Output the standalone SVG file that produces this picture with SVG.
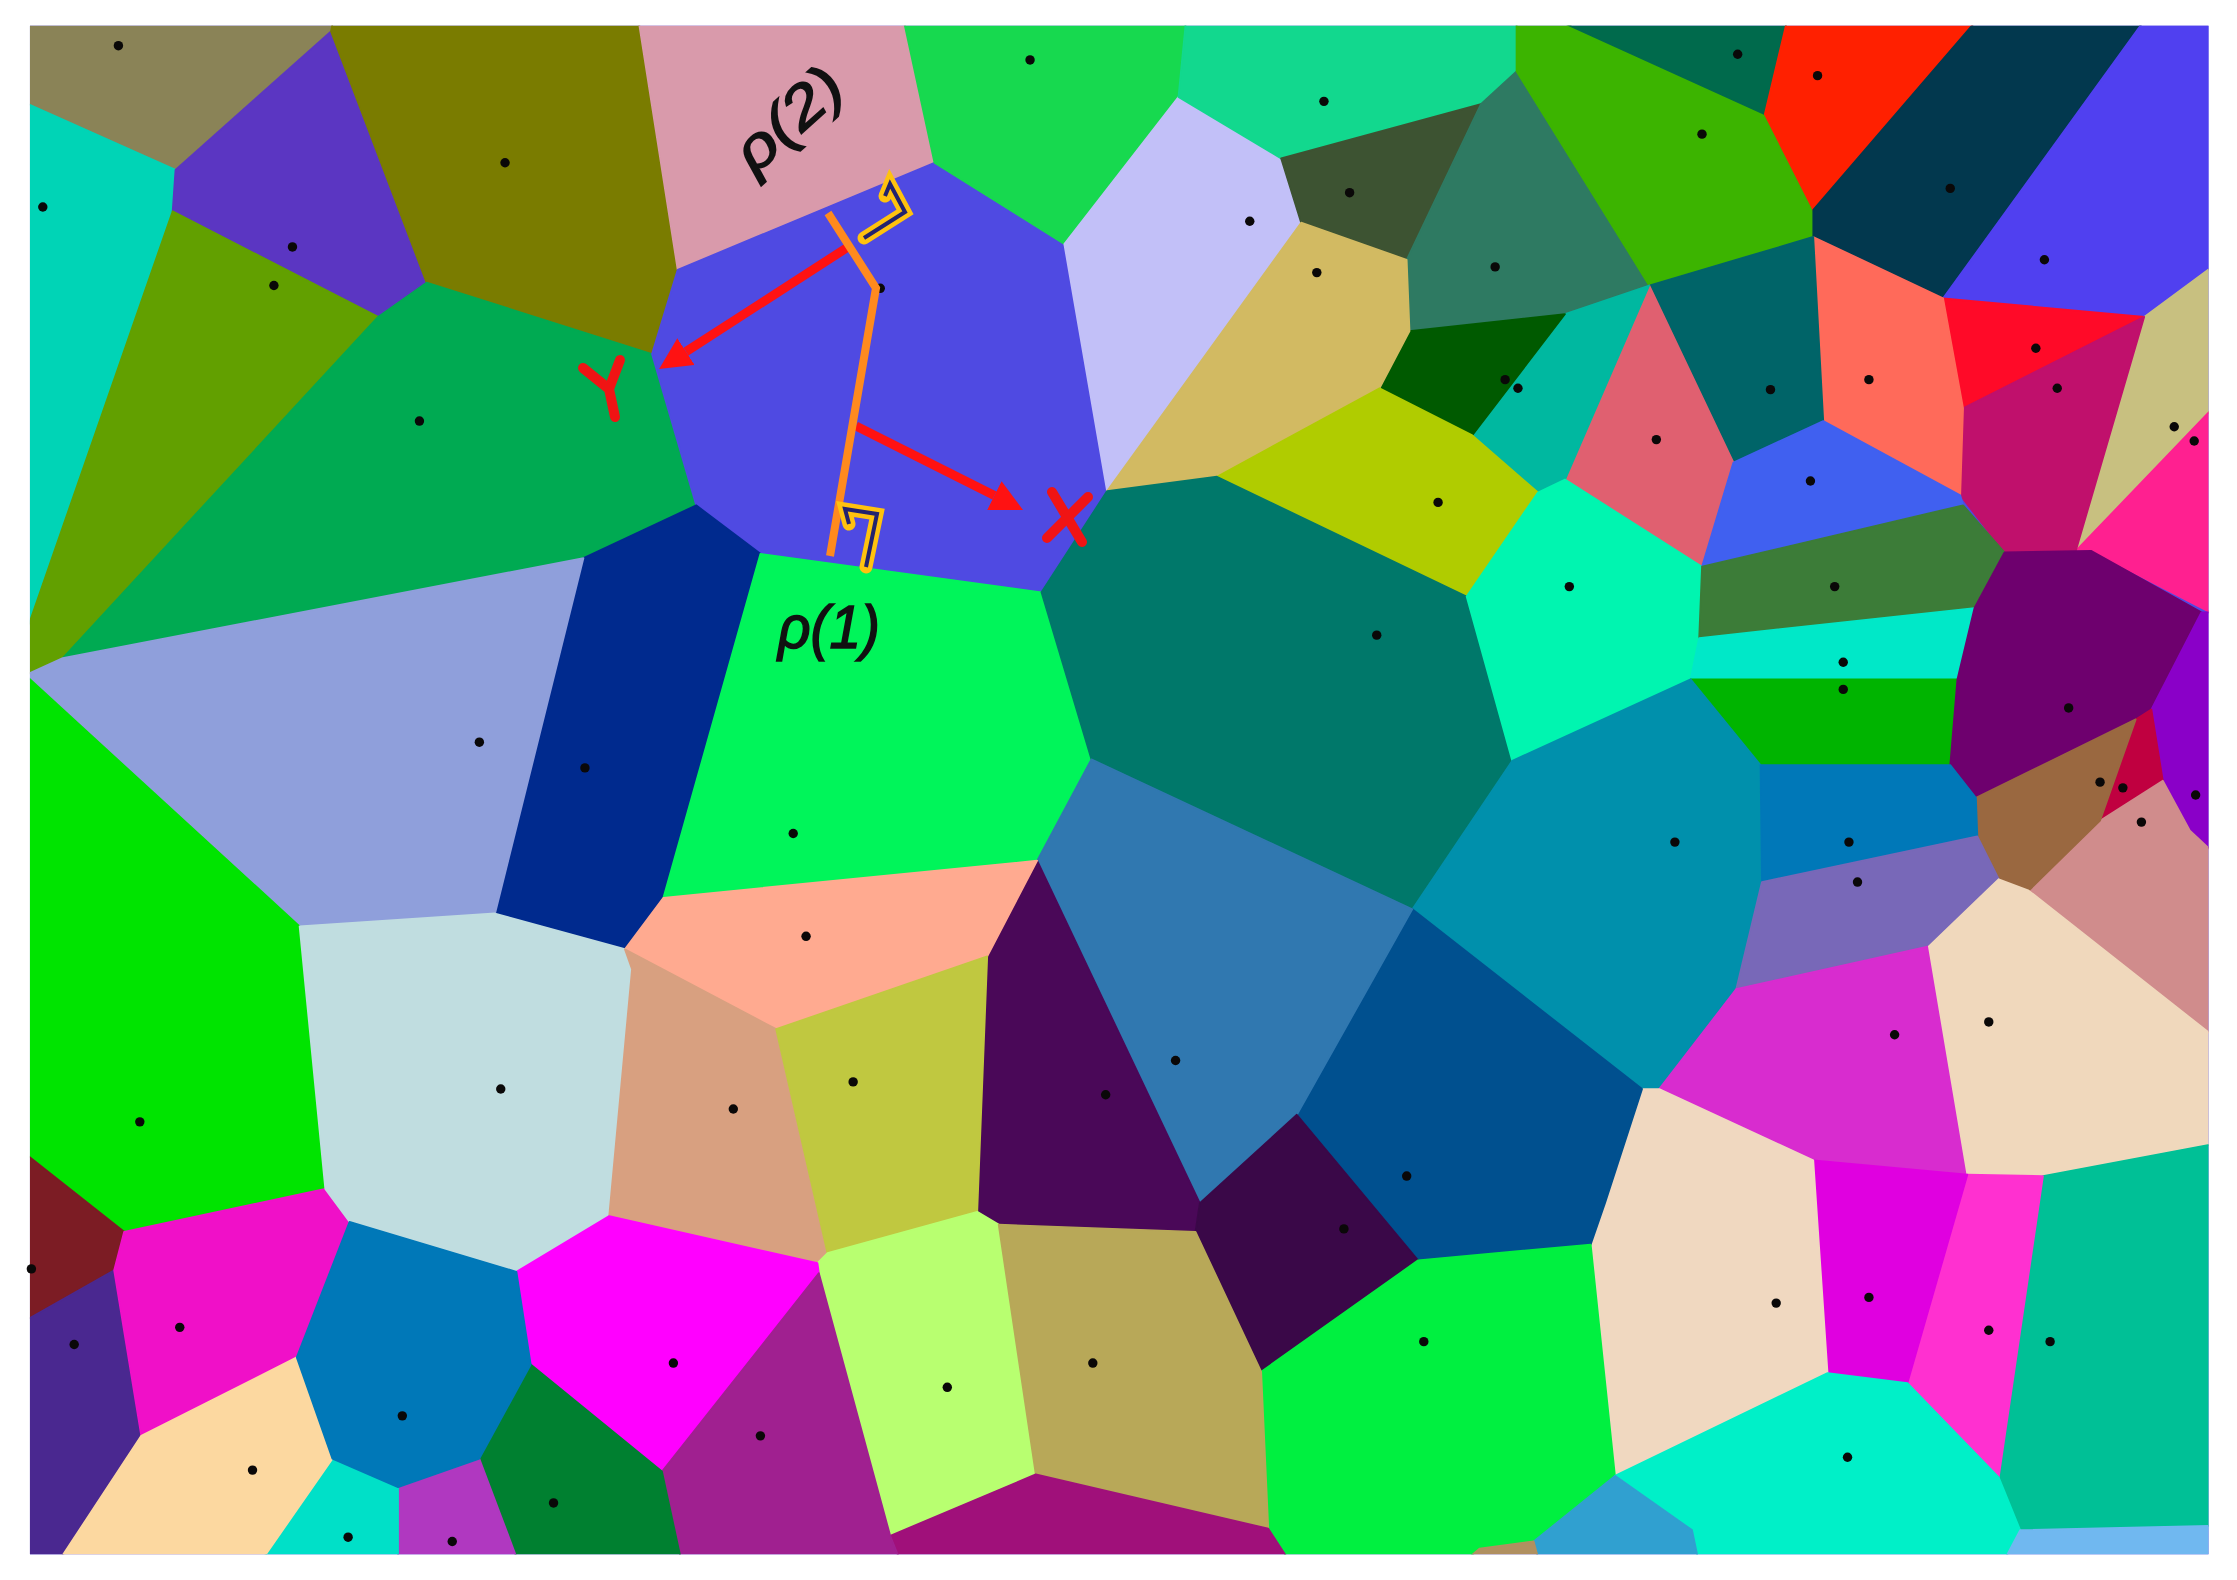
<svg xmlns="http://www.w3.org/2000/svg" width="2237" height="1580" viewBox="0 0 2237 1580">
<style>
.c{stroke-width:1.2;stroke-linejoin:round}
.s{fill:#0a0808}
.lbl{font-family:"Liberation Sans","DejaVu Sans",sans-serif;fill:#111;stroke:#111;stroke-width:1.6;font-style:italic}
.arr{stroke:#ff1212;stroke-width:9;fill:none}
.mk1{stroke:#ffc20e;stroke-width:13;fill:none;stroke-linejoin:miter;stroke-linecap:round}
.mk2{stroke:#23236e;stroke-width:4;fill:none;stroke-linejoin:miter}
.let{stroke:#f01414;stroke-width:10;fill:none;stroke-linecap:round;stroke-linejoin:round}
</style>
<defs>
<clipPath id="frame"><rect x="21" y="18" width="1527" height="1071"/></clipPath>
<marker id="ah" viewBox="0 0 32 32" refX="0" refY="16" markerWidth="32" markerHeight="32" markerUnits="userSpaceOnUse" orient="auto"><path d="M0,0 L32,16 L0,32 z" fill="#ff1212"/></marker>
</defs>
<rect width="2237" height="1580" fill="#ffffff"/>
<g id="cells" transform="scale(1.42666,1.42728)" clip-path="url(#frame)">
<rect x="20" y="17" width="1530" height="1074" fill="#4f4ae2"/>
<polygon class="c" fill="#8a8357" stroke="#8a8357" points="20,17 233,17 232,22 123,119 20,73"/>
<polygon class="c" fill="#00d4b6" stroke="#00d4b6" points="20,73 123,119 121,148 20,438"/>
<polygon class="c" fill="#5b36c2" stroke="#5b36c2" points="232,22 299,198 265,222 121,148 123,119"/>
<polygon class="c" fill="#62a000" stroke="#62a000" points="121,148 265,222 44,461 20,472 20,438"/>
<polygon class="c" fill="#7a7c00" stroke="#7a7c00" points="233,17 448,17 475,189 457,248 299,198 232,22"/>
<polygon class="c" fill="#d99aab" stroke="#d99aab" points="448,17 634,17 655,114 475,189"/>
<polygon class="c" fill="#00aa52" stroke="#00aa52" points="265,222 299,198 457,248 488,354 409,391 44,461"/>
<polygon class="c" fill="#4f4ae2" stroke="#4f4ae2" points="475,189 655,114 746,171 776,344 730,415 533,388 488,354 457,248"/>
<polygon class="c" fill="#002a8e" stroke="#002a8e" points="409,391 488,354 533,388 465,629 438,665 347,640"/>
<polygon class="c" fill="#8f9fdb" stroke="#8f9fdb" points="20,472 44,461 409,391 347,640 210,649 20,475"/>
<polygon class="c" fill="#00f55a" stroke="#00f55a" points="533,388 730,415 765,532 727,603 465,629"/>
<polygon class="c" fill="#17d94f" stroke="#17d94f" points="634,17 831,17 826,68 746,171 655,114"/>
<polygon class="c" fill="#c2c0f8" stroke="#c2c0f8" points="746,171 826,68 898,111 912,156 776,344"/>
<polygon class="c" fill="#12d88e" stroke="#12d88e" points="831,17 1063,17 1063,50 1038,73 898,111 826,68"/>
<polygon class="c" fill="#3d5332" stroke="#3d5332" points="898,111 1038,73 986,182 912,156"/>
<polygon class="c" fill="#2e7a62" stroke="#2e7a62" points="1038,73 1063,50 1156,200 1097,220 988,232 986,182"/>
<polygon class="c" fill="#3cb400" stroke="#3cb400" points="1063,17 1098,17 1237,80 1271,147 1271,166 1156,200 1063,50"/>
<polygon class="c" fill="#006a4c" stroke="#006a4c" points="1098,17 1252,17 1237,80"/>
<polygon class="c" fill="#ff2000" stroke="#ff2000" points="1252,17 1383,17 1271,147 1237,80"/>
<polygon class="c" fill="#02384e" stroke="#02384e" points="1383,17 1501,17 1362,209 1271,166 1271,147"/>
<polygon class="c" fill="#5040f0" stroke="#5040f0" points="1501,17 1549,17 1549,188 1503,222 1362,209"/>
<polygon class="c" fill="#ff0a28" stroke="#ff0a28" points="1362,209 1503,222 1376,286"/>
<polygon class="c" fill="#c8c080" stroke="#c8c080" points="1503,222 1549,188 1549,288 1455,386"/>
<polygon class="c" fill="#ff2090" stroke="#ff2090" points="1549,288 1549,429 1466,386 1455,386"/>
<polygon class="c" fill="#c0106c" stroke="#c0106c" points="1376,286 1503,222 1455,386 1405,387 1374,347"/>
<polygon class="c" fill="#ff6a5a" stroke="#ff6a5a" points="1271,166 1362,209 1376,286 1374,347 1278,295"/>
<polygon class="c" fill="#006468" stroke="#006468" points="1156,200 1271,166 1278,295 1215,324"/>
<polygon class="c" fill="#e06070" stroke="#e06070" points="1156,200 1215,324 1193,397 1097,336"/>
<polygon class="c" fill="#00b8a0" stroke="#00b8a0" points="1097,220 1156,200 1097,336 1078,345 1032,305"/>
<polygon class="c" fill="#005a00" stroke="#005a00" points="988,232 1097,220 1032,305 967,272"/>
<polygon class="c" fill="#d2ba62" stroke="#d2ba62" points="912,156 986,182 988,232 967,272 853,334 776,344"/>
<polygon class="c" fill="#b0cc00" stroke="#b0cc00" points="853,334 967,272 1032,305 1078,345 1028,418"/>
<polygon class="c" fill="#00786a" stroke="#00786a" points="776,344 853,334 1028,418 1060,533 990,637 765,532 730,415"/>
<polygon class="c" fill="#00f5b0" stroke="#00f5b0" points="1028,418 1078,345 1097,336 1193,397 1191,447 1185,476 1060,533"/>
<polygon class="c" fill="#4060f0" stroke="#4060f0" points="1193,397 1215,324 1278,295 1374,347 1376,354"/>
<polygon class="c" fill="#3c7c38" stroke="#3c7c38" points="1193,397 1376,354 1405,387 1384,426 1191,447"/>
<polygon class="c" fill="#00e8c8" stroke="#00e8c8" points="1191,447 1384,426 1372,476 1185,476"/>
<polygon class="c" fill="#00b400" stroke="#00b400" points="1185,476 1372,476 1367,536 1234,536"/>
<polygon class="c" fill="#6e006e" stroke="#6e006e" points="1384,426 1405,387 1466,386 1543,429 1508,497 1497,504 1385,559 1367,536 1372,476"/>
<polygon class="c" fill="#8a00c8" stroke="#8a00c8" points="1543,429 1549,429 1549,595 1535,582 1516,547 1508,497"/>
<polygon class="c" fill="#c00040" stroke="#c00040" points="1497,504 1508,497 1516,547 1472,575"/>
<polygon class="c" fill="#d08c8c" stroke="#d08c8c" points="1472,575 1516,547 1535,582 1549,595 1549,724 1422,624"/>
<polygon class="c" fill="#9a6840" stroke="#9a6840" points="1385,559 1497,504 1472,575 1422,624 1401,616 1386,586"/>
<polygon class="c" fill="#0090ac" stroke="#0090ac" points="1060,533 1185,476 1234,536 1235,618 1217,693 1163,763 1151,763 990,637"/>
<polygon class="c" fill="#0078b8" stroke="#0078b8" points="1234,536 1367,536 1385,559 1386,586 1235,618"/>
<polygon class="c" fill="#7868b8" stroke="#7868b8" points="1235,618 1386,586 1401,616 1352,663 1217,693"/>
<polygon class="c" fill="#d82ccf" stroke="#d82ccf" points="1217,693 1352,663 1379,823 1271,813 1163,763"/>
<polygon class="c" fill="#f0d8bc" stroke="#f0d8bc" points="1352,663 1401,616 1422,624 1549,724 1549,802 1432,824 1379,823"/>
<polygon class="c" fill="#00c096" stroke="#00c096" points="1432,824 1549,802 1549,1069 1416,1072 1401,1035"/>
<polygon class="c" fill="#ff30d0" stroke="#ff30d0" points="1379,823 1432,824 1401,1035 1337,969"/>
<polygon class="c" fill="#e000e0" stroke="#e000e0" points="1271,813 1379,823 1337,969 1281,962"/>
<polygon class="c" fill="#f0d8c0" stroke="#f0d8c0" points="1151,763 1163,763 1271,813 1281,962 1132,1034 1115,872 1125,843"/>
<polygon class="c" fill="#00508f" stroke="#00508f" points="990,637 1151,763 1125,843 1115,872 994,883 909,781"/>
<polygon class="c" fill="#3078b0" stroke="#3078b0" points="765,532 990,637 909,781 841,843 727,603"/>
<polygon class="c" fill="#4a0858" stroke="#4a0858" points="727,603 841,843 838,863 700,858 685,849 692,670"/>
<polygon class="c" fill="#3a0848" stroke="#3a0848" points="841,843 909,781 994,883 884,961 838,863"/>
<polygon class="c" fill="#00f040" stroke="#00f040" points="994,883 1115,872 1132,1034 1075,1080 1037,1085 1030,1091 902,1091 889,1071 884,961"/>
<polygon class="c" fill="#00f0c8" stroke="#00f0c8" points="1132,1034 1281,962 1337,969 1401,1035 1416,1072 1406,1091 1190,1091 1186,1072"/>
<polygon class="c" fill="#30a0d0" stroke="#30a0d0" points="1132,1034 1186,1072 1190,1091 1078,1091 1075,1080"/>
<polygon class="c" fill="#70b8f0" stroke="#70b8f0" points="1416,1072 1549,1069 1549,1091 1406,1091"/>
<polygon class="c" fill="#b09060" stroke="#b09060" points="1037,1085 1075,1080 1078,1091 1030,1091"/>
<polygon class="c" fill="#ffaa90" stroke="#ffaa90" points="465,629 727,603 692,670 544,721 438,665"/>
<polygon class="c" fill="#00e400" stroke="#00e400" points="20,475 210,649 228,833 87,863 20,810"/>
<polygon class="c" fill="#7c1c24" stroke="#7c1c24" points="20,810 87,863 80,890 20,924"/>
<polygon class="c" fill="#4a2890" stroke="#4a2890" points="20,924 80,890 99,1006 43,1091 20,1091"/>
<polygon class="c" fill="#f010c8" stroke="#f010c8" points="87,863 228,833 245,856 208,951 99,1006 80,890"/>
<polygon class="c" fill="#c0dde0" stroke="#c0dde0" points="210,649 347,640 438,665 443,679 427,852 362,891 245,856 228,833"/>
<polygon class="c" fill="#d8a080" stroke="#d8a080" points="443,679 438,665 544,721 580,878 573,885 427,852"/>
<polygon class="c" fill="#c0c840" stroke="#c0c840" points="544,721 692,670 685,849 580,878"/>
<polygon class="c" fill="#b8ff70" stroke="#b8ff70" points="573,885 580,878 685,849 700,858 726,1033 624,1076 574,892"/>
<polygon class="c" fill="#b8a858" stroke="#b8a858" points="700,858 838,863 884,961 889,1071 726,1033"/>
<polygon class="c" fill="#a0107a" stroke="#a0107a" points="624,1076 726,1033 889,1071 902,1091 630,1091"/>
<polygon class="c" fill="#ff00ff" stroke="#ff00ff" points="362,891 427,852 573,885 574,892 464,1031 372,956"/>
<polygon class="c" fill="#a02090" stroke="#a02090" points="574,892 624,1076 630,1091 477,1091 464,1031"/>
<polygon class="c" fill="#008030" stroke="#008030" points="372,956 464,1031 477,1091 362,1091 336,1022"/>
<polygon class="c" fill="#b038c0" stroke="#b038c0" points="279,1042 336,1022 362,1091 279,1091"/>
<polygon class="c" fill="#00e0c8" stroke="#00e0c8" points="233,1022 279,1042 279,1091 185,1091"/>
<polygon class="c" fill="#fcd8a0" stroke="#fcd8a0" points="99,1006 208,951 233,1022 185,1091 43,1091"/>
<polygon class="c" fill="#0078b8" stroke="#0078b8" points="245,856 362,891 372,956 336,1022 279,1042 233,1022 208,951"/>
</g>
<g id="sites" transform="scale(1.42666,1.42728)">
<circle class="s" cx="83" cy="32" r="3.3"/><circle class="s" cx="30" cy="145" r="3.3"/><circle class="s" cx="205" cy="173" r="3.3"/><circle class="s" cx="192" cy="200" r="3.3"/><circle class="s" cx="354" cy="114" r="3.3"/><circle class="s" cx="294" cy="295" r="3.3"/><circle class="s" cx="336" cy="520" r="3.3"/><circle class="s" cx="410" cy="538" r="3.3"/><circle class="s" cx="556" cy="584" r="3.3"/><circle class="s" cx="617" cy="202" r="3.3"/><circle class="s" cx="722" cy="42" r="3.3"/><circle class="s" cx="928" cy="71" r="3.3"/><circle class="s" cx="946" cy="135" r="3.3"/><circle class="s" cx="876" cy="155" r="3.3"/><circle class="s" cx="923" cy="191" r="3.3"/><circle class="s" cx="1048" cy="187" r="3.3"/><circle class="s" cx="1218" cy="38" r="3.3"/><circle class="s" cx="1274" cy="53" r="3.3"/><circle class="s" cx="1193" cy="94" r="3.3"/><circle class="s" cx="1367" cy="132" r="3.3"/><circle class="s" cx="1433" cy="182" r="3.3"/><circle class="s" cx="1427" cy="244" r="3.3"/><circle class="s" cx="1442" cy="272" r="3.3"/><circle class="s" cx="1310" cy="266" r="3.3"/><circle class="s" cx="1241" cy="273" r="3.3"/><circle class="s" cx="1161" cy="308" r="3.3"/><circle class="s" cx="1055" cy="266" r="3.3"/><circle class="s" cx="1064" cy="272" r="3.3"/><circle class="s" cx="1008" cy="352" r="3.3"/><circle class="s" cx="965" cy="445" r="3.3"/><circle class="s" cx="1100" cy="411" r="3.3"/><circle class="s" cx="1269" cy="337" r="3.3"/><circle class="s" cx="1286" cy="411" r="3.3"/><circle class="s" cx="1292" cy="464" r="3.3"/><circle class="s" cx="1292" cy="483" r="3.3"/><circle class="s" cx="1450" cy="496" r="3.3"/><circle class="s" cx="1524" cy="299" r="3.3"/><circle class="s" cx="1538" cy="309" r="3.3"/><circle class="s" cx="1174" cy="590" r="3.3"/><circle class="s" cx="1296" cy="590" r="3.3"/><circle class="s" cx="1302" cy="618" r="3.3"/><circle class="s" cx="1472" cy="548" r="3.3"/><circle class="s" cx="1488" cy="552" r="3.3"/><circle class="s" cx="1539" cy="557" r="3.3"/><circle class="s" cx="1501" cy="576" r="3.3"/><circle class="s" cx="1328" cy="725" r="3.3"/><circle class="s" cx="1394" cy="716" r="3.3"/><circle class="s" cx="565" cy="656" r="3.3"/><circle class="s" cx="598" cy="758" r="3.3"/><circle class="s" cx="514" cy="777" r="3.3"/><circle class="s" cx="351" cy="763" r="3.3"/><circle class="s" cx="98" cy="786" r="3.3"/><circle class="s" cx="22" cy="889" r="3.3"/><circle class="s" cx="52" cy="942" r="3.3"/><circle class="s" cx="126" cy="930" r="3.3"/><circle class="s" cx="282" cy="992" r="3.3"/><circle class="s" cx="472" cy="955" r="3.3"/><circle class="s" cx="177" cy="1030" r="3.3"/><circle class="s" cx="244" cy="1077" r="3.3"/><circle class="s" cx="317" cy="1080" r="3.3"/><circle class="s" cx="388" cy="1053" r="3.3"/><circle class="s" cx="533" cy="1006" r="3.3"/><circle class="s" cx="664" cy="972" r="3.3"/><circle class="s" cx="766" cy="955" r="3.3"/><circle class="s" cx="775" cy="767" r="3.3"/><circle class="s" cx="824" cy="743" r="3.3"/><circle class="s" cx="942" cy="861" r="3.3"/><circle class="s" cx="986" cy="824" r="3.3"/><circle class="s" cx="998" cy="940" r="3.3"/><circle class="s" cx="1245" cy="913" r="3.3"/><circle class="s" cx="1310" cy="909" r="3.3"/><circle class="s" cx="1394" cy="932" r="3.3"/><circle class="s" cx="1437" cy="940" r="3.3"/><circle class="s" cx="1295" cy="1021" r="3.3"/>
</g>
<g id="connectors">
<line class="arr" x1="848" y1="247" x2="686" y2="351.6" marker-end="url(#ah)"/>
<line class="arr" x1="856" y1="426" x2="994.4" y2="495.6" marker-end="url(#ah)"/>
<polyline points="828,213 876,288 830,556" fill="none" stroke="#ff8a1e" stroke-width="8" stroke-linejoin="miter"/>
<polyline class="mk1" points="864,238 905,212 890,184 885,196"/>
<polyline class="mk2" points="864,238 905,212 890,184 885,196"/>
<polyline class="mk1" points="849,524 845,509 877,514 866,567"/>
<polyline class="mk2" points="849,524 845,509 877,514 866,567"/>
</g>
<g id="labels">
<path class="let" d="M583,368 L609,389 M620,360 L609,389 L615,417"/>
<path class="let" d="M1052,492 L1082,542 M1088,497 L1047,538" stroke-width="8"/>
<text class="lbl" transform="translate(790,121) rotate(-42)" x="0" y="17" font-size="58" text-anchor="middle" textLength="126" lengthAdjust="spacingAndGlyphs">ρ(2)</text>
<text class="lbl" x="778" y="648" font-size="62" textLength="102" lengthAdjust="spacingAndGlyphs">ρ(1)</text>
</g>
</svg>
